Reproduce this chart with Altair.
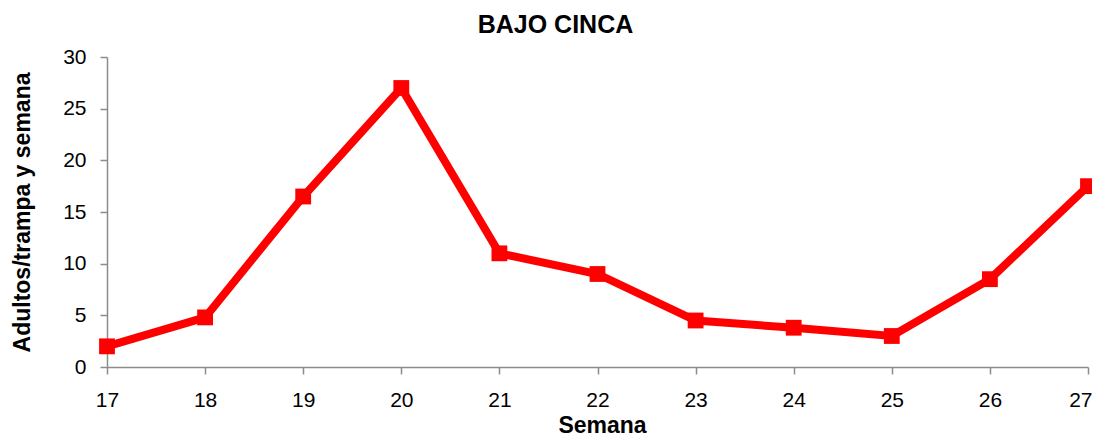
import altair as alt
import pandas as pd

semanas = [17, 18, 19, 20, 21, 22, 23, 24, 25, 26, 27]
adultos = [2.0, 4.8, 16.5, 27.0, 11.0, 9.0, 4.5, 3.8, 3.0, 8.5, 17.5]
y_ticks = [0, 5, 10, 15, 20, 25, 30]

df = pd.DataFrame({"Semana": semanas, "Adultos": adultos})

RED = "#FF0000"
GRAY = "#8C8C8C"
FONT = "Liberation Sans"

chart = (
    alt.Chart(df)
    .mark_line(
        color=RED,
        strokeWidth=8,
        point=alt.OverlayMarkDef(shape="square", size=250, filled=True, color=RED, opacity=1),
    )
    .encode(
        x=alt.X(
            "Semana:Q",
            scale=alt.Scale(domain=[17, 27], nice=False, zero=False),
            axis=alt.Axis(
                values=semanas,
                format="d",
                title="Semana",
                grid=False,
                tickSize=7,
                labelPadding=15,
                labelFlush=False,
                labelBound=False,
                labelAlign=alt.expr("datum.value == 27 ? 'right' : 'center'"),
                labelOffset=alt.expr("datum.value == 27 ? 4 : 0"),
                titleY=58,
                titleBaseline="middle",
                titleX=495,
            ),
        ),
        y=alt.Y(
            "Adultos:Q",
            scale=alt.Scale(domain=[0, 30], nice=False),
            axis=alt.Axis(
                values=y_ticks,
                title="Adultos/trampa y semana",
                grid=False,
                tickSize=7,
                labelPadding=14,
                labelFlush=False,
                labelBound=False,
                titleX=-85,
                titleY=155,
                titleBaseline="middle",
                titleAngle=-90,
            ),
        ),
    )
    .properties(
        width=981,
        height=310,
        autosize=alt.AutoSizeParams(type="none"),
        padding={"left": 99, "top": 49, "right": 4, "bottom": 69},
        title=alt.TitleParams(
            text="BAJO CINCA",
            fontSize=25,
            fontWeight="bold",
            font=FONT,
            color="#000000",
            anchor="middle",
            dx=-42,
            dy=34,
            offset=22,
            baseline="alphabetic",
        ),
    )
    .configure_view(stroke=None)
    .configure_axis(
        domainColor=GRAY,
        tickColor=GRAY,
        domainWidth=1.5,
        tickWidth=1.5,
        labelFont=FONT,
        labelFontSize=21,
        labelColor="#000000",
        titleFont=FONT,
        titleFontSize=23,
        titleFontWeight="bold",
        titleColor="#000000",
    )
)

chart.save("out.html", embed_options={"renderer": "svg", "actions": False})
